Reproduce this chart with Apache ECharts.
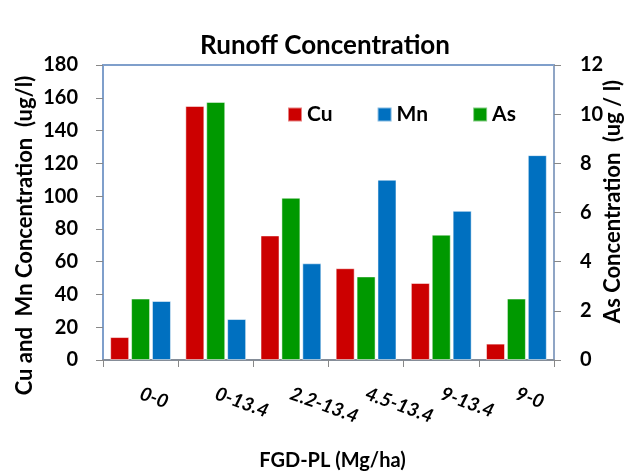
<!DOCTYPE html>
<html><head><meta charset="utf-8">
<script src="https://cdn.jsdelivr.net/npm/echarts@6/dist/echarts.min.js"></script>
<style>html,body{margin:0;padding:0;background:#fff}#c{width:627px;height:474px}</style>
</head><body><div id="c"></div>
<script>
var categories = ['0-0', '0-13.4', '2.2-13.4', '4.5-13.4', '9-13.4', '9-0'];
var cuValues = [14, 155, 76, 56, 47, 10];
var mnValues = [36, 25, 59, 110, 91, 125];
var asValues = [2.5, 10.5, 6.6, 3.4, 5.1, 2.5];
var leftTicks = {min: 0, max: 180, interval: 20};
var rightTicks = {min: 0, max: 12, interval: 2};

var FONT = 'Lato';
var chart = echarts.init(document.getElementById('c'));
function bar(name, data, color, axisIdx) {
  return {
    name: name, type: 'bar', data: data, yAxisIndex: axisIdx,
    barWidth: 19, barGap: '10%',
    itemStyle: {color: color, borderColor: 'rgba(255,255,255,0.5)', borderWidth: 1},
    emphasis: {disabled: true}
  };
}
chart.setOption({
  animation: false,
  title: {
    text: 'Runoff Concentration', left: 320, top: 28, textAlign: 'center',
    textStyle: {fontFamily: FONT, fontWeight: 'bold', fontSize: 26, color: '#000'}
  },
  legend: {
    data: ['Cu', 'Mn', 'As'], left: 282, top: 99, icon: 'rect',
    itemWidth: 14, itemHeight: 14, itemGap: 44,
    textStyle: {fontFamily: FONT, fontWeight: 'bold', fontSize: 21, color: '#000'}
  },
  grid: {left: 103, right: 73, top: 65, bottom: 114, show: true, borderColor: '#7F9FCB', borderWidth: 2,
         containLabel: false, outerBoundsMode: 'none'},
  xAxis: {
    type: 'category', data: categories,
    name: 'FGD-PL (Mg/ha)', nameLocation: 'middle', nameGap: 91, nameMoveOverlap: false,
    nameTextStyle: {fontFamily: FONT, fontWeight: 'bold', fontSize: 20, color: '#000', padding: [0, 0, 0, 8]},
    axisLine: {lineStyle: {color: '#888', width: 1.5}},
    axisTick: {show: true, length: 7, lineStyle: {color: '#888'}},
    axisLabel: {rotate: -20, margin: 33, fontFamily: FONT, fontWeight: 'bold', fontStyle: 'italic', fontSize: 19, color: '#000'}
  },
  yAxis: [{
    type: 'value', min: leftTicks.min, max: leftTicks.max, interval: leftTicks.interval,
    name: 'Cu and  Mn Concentration  (ug/l)', nameLocation: 'middle', nameGap: 67, nameMoveOverlap: false,
    nameTextStyle: {fontFamily: FONT, fontWeight: 'bold', fontSize: 22, color: '#000', padding: [0, 46, 0, 0]},
    axisLine: {show: true, lineStyle: {color: '#7F9FCB', width: 2}},
    axisTick: {show: true, length: 7, lineStyle: {color: '#888'}},
    splitLine: {show: false},
    axisLabel: {margin: 25, fontFamily: FONT, fontWeight: 'bold', fontSize: 20, color: '#000'}
  }, {
    type: 'value', min: rightTicks.min, max: rightTicks.max, interval: rightTicks.interval,
    name: 'As Concentration  (ug / l)', nameLocation: 'middle', nameGap: 48, nameMoveOverlap: false,
    nameTextStyle: {fontFamily: FONT, fontWeight: 'bold', fontSize: 22, color: '#000', padding: [0, 0, 0, 22]},
    axisLine: {show: true, lineStyle: {color: '#8FA5C5', width: 2}},
    axisTick: {show: true, length: 7, lineStyle: {color: '#888'}},
    splitLine: {show: false},
    axisLabel: {margin: 26, fontFamily: FONT, fontWeight: 'bold', fontSize: 20, color: '#000'}
  }],
  series: [
    bar('Cu', cuValues, '#CC0000', 0),
    bar('As', asValues, '#009900', 1),
    bar('Mn', mnValues, '#0070C0', 0)
  ]
});
</script></body></html>
